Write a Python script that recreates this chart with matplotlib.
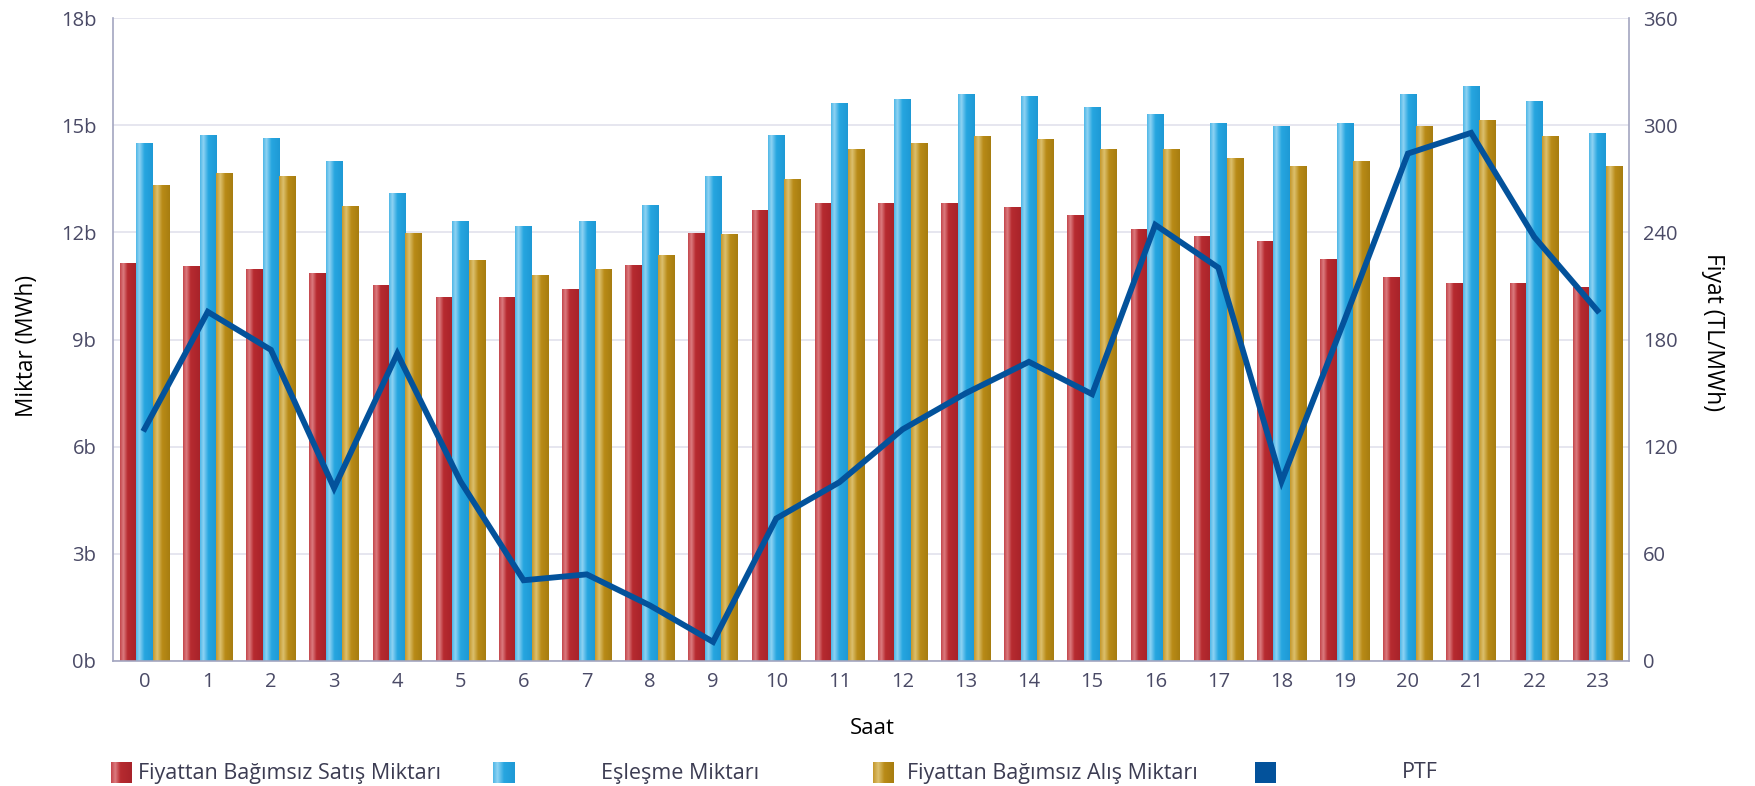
import numpy as np
import matplotlib
matplotlib.use("Agg")
from matplotlib import pyplot as plt
from matplotlib.colors import LinearSegmentedColormap

plt.rcParams["font.family"] = ["Open Sans", "DejaVu Sans"]

hours = list(range(24))
# Fiyattan Bagimsiz Satis Miktari (bn MWh)
satis = [11.13, 11.03, 10.97, 10.85, 10.52, 10.17, 10.17, 10.41, 11.08, 11.96,
         12.60, 12.82, 12.82, 12.82, 12.70, 12.48, 12.09, 11.87, 11.75, 11.25,
         10.74, 10.57, 10.57, 10.46]
# Eslesme Miktari
eslesme = [14.50, 14.72, 14.62, 13.99, 13.10, 12.31, 12.15, 12.31, 12.76, 13.55,
           14.72, 15.62, 15.73, 15.85, 15.79, 15.50, 15.29, 15.06, 14.95, 15.06,
           15.85, 16.07, 15.67, 14.77]
# Fiyattan Bagimsiz Alis Miktari
alis = [13.32, 13.66, 13.55, 12.71, 11.97, 11.20, 10.80, 10.97, 11.36, 11.95,
        13.49, 14.33, 14.50, 14.67, 14.61, 14.33, 14.33, 14.06, 13.83, 13.99,
        14.95, 15.12, 14.67, 13.83]
# PTF (TL/MWh)
ptf = [130.0, 195.5, 174.2, 96.8, 172.1, 100.6, 45.2, 48.5, 31.1, 10.7,
       79.8, 100.1, 129.7, 149.9, 167.5, 149.4, 244.2, 220.2, 100.6, 191.3,
       284.1, 295.7, 237.4, 196.2]

labels = ["Fiyattan Bağımsız Satış Miktarı", "Eşleşme Miktarı",
          "Fiyattan Bağımsız Alış Miktarı", "PTF"]

red_cmap = LinearSegmentedColormap.from_list(
    "r", [(0, "#c4464c"), (0.2, "#dc7b7f"), (0.45, "#b72b30"), (1, "#a8232a")])
blue_cmap = LinearSegmentedColormap.from_list(
    "b", [(0, "#4fb7e7"), (0.2, "#8ed3f3"), (0.5, "#27a6e0"), (1, "#1e99d5")])
gold_cmap = LinearSegmentedColormap.from_list(
    "g", [(0, "#c5982c"), (0.25, "#dcc06e"), (0.55, "#b98b17"), (1, "#a77d10")])
line_color = "#03529b"
tick_color = "#4a4a66"
spine_color = "#a3a6c0"

grad = np.linspace(0, 1, 64).reshape(1, -1)

fig = plt.figure(figsize=(17.55, 7.86), dpi=100)
ax = fig.add_axes([113 / 1755, 1 - 661 / 786, (1629 - 113) / 1755, (661 - 18) / 786])

x = np.arange(len(hours))
w = 0.26
series = [(satis, -w, red_cmap), (eslesme, 0, blue_cmap), (alis, w, gold_cmap)]
for vals, off, cmap in series:
    bars = ax.bar(x + off, vals, width=w, color=cmap(0.5), zorder=2)
    for b in bars:
        ax.imshow(grad, cmap=cmap, aspect="auto", zorder=2.5,
                  extent=[b.get_x(), b.get_x() + b.get_width(), 0, b.get_height()])

ax.set_xlim(-0.5, 23.5)
ax.set_ylim(0, 18)
ax.set_aspect("auto")
ax.set_yticks(range(0, 19, 3))
ax.set_yticklabels([f"{v}b" for v in range(0, 19, 3)])
ax.set_xticks(x)
ax.set_xticklabels([str(h) for h in hours])
ax.grid(axis="y", color="#e2e2ec", linewidth=1.2, zorder=0)
ax.set_axisbelow(True)
ax.tick_params(length=0, labelsize=14.5, labelcolor=tick_color)
ax.tick_params(axis="y", pad=12)
ax.tick_params(axis="x", pad=8)
for s in ["top", "right"]:
    ax.spines[s].set_visible(False)
for s in ["left", "bottom"]:
    ax.spines[s].set_color(spine_color)
    ax.spines[s].set_linewidth(1.2)

ax2 = ax.twinx()
ax2.plot(x, ptf, color=line_color, linewidth=4.2, solid_joinstyle="miter", zorder=5)
ax2.set_ylim(0, 360)
ax2.set_yticks(range(0, 361, 60))
ax2.tick_params(length=0, labelsize=14.5, labelcolor=tick_color, pad=10)
for s in ["top", "left", "bottom"]:
    ax2.spines[s].set_visible(False)
ax2.spines["right"].set_color(spine_color)
ax2.spines["right"].set_linewidth(1.2)

fig.text(27 / 1755, 1 - 346 / 786, "Miktar (MWh)", rotation=90, ha="center",
         va="center", fontsize=16.3, color="black")
fig.text(1713 / 1755, 1 - 332 / 786, "Fiyat (TL/MWh)", rotation=270, ha="center",
         va="center", fontsize=16.5, color="black")
fig.text(872 / 1755, 1 - 728 / 786, "Saat", ha="center", va="center",
         fontsize=16, color="black")

# legend
swatches = [(111, red_cmap, 138), (493, blue_cmap, 601),
            (873, gold_cmap, 907), (1255, None, 1402)]
for (sx, cmap, tx), lab in zip(swatches, labels):
    sax = fig.add_axes([sx / 1755, 1 - 783 / 786, 21 / 1755, 21 / 786])
    if cmap is None:
        sax.set_facecolor(line_color)
    else:
        sax.imshow(grad, cmap=cmap, aspect="auto")
    sax.set_xticks([])
    sax.set_yticks([])
    for sp in sax.spines.values():
        sp.set_visible(False)
    fig.text(tx / 1755, 1 - 773 / 786, lab, ha="left", va="center",
             fontsize=15.5, color="#3c3c52")

fig.savefig("out.png", dpi=100)
